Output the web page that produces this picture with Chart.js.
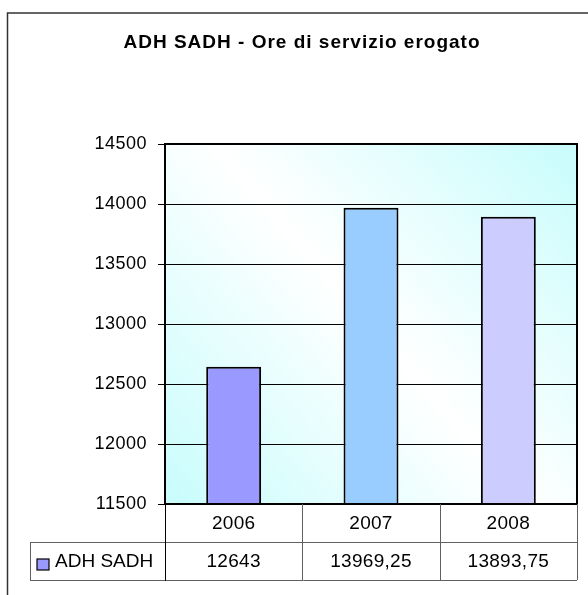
<!DOCTYPE html>
<html>
<head>
<meta charset="utf-8">
<script src="https://cdn.jsdelivr.net/npm/chart.js@4/dist/chart.umd.min.js"></script>
<style>
  html, body { margin: 0; padding: 0; background: #fff; }
  #wrap { width: 588px; height: 595px; }
</style>
</head>
<body>
<div id="wrap"><canvas id="chart" width="588" height="595"></canvas></div>
<script>
// dati
const years = ['2006', '2007', '2008'];
const oreServizio = [12643, 13969.25, 13893.75];
const barColors = ['#9999FF', '#99CCFF', '#CCCCFF'];
const seriesName = 'ADH SADH';
const chartTitle = 'ADH SADH - Ore di servizio erogato';

const FONT = 'Arial, "Liberation Sans", sans-serif';
const fmt = (v) => String(v).replace('.', ',');

// sfondo, cornice, titolo, tabella dati
const excelLook = {
  id: 'excelLook',
  beforeDraw(chart) {
    const { ctx, chartArea: a } = chart;
    ctx.save();
    ctx.fillStyle = '#fff';
    ctx.fillRect(0, 0, chart.width, chart.height);
    // cornice esterna (tagliata a destra e in basso)
    ctx.strokeStyle = '#333';
    ctx.lineWidth = 1.5;
    ctx.strokeRect(7.5, 13, 700, 700);
    // titolo
    ctx.fillStyle = '#000';
    ctx.font = 'bold 19px ' + FONT;
    ctx.letterSpacing = '1px';
    ctx.textAlign = 'center';
    ctx.textBaseline = 'middle';
    ctx.fillText(chartTitle, 302, 43);
    ctx.letterSpacing = '0px';
    // sfondo area del grafico
    const g = ctx.createLinearGradient(a.left, a.bottom, a.right, a.top);
    g.addColorStop(0, '#c8fcfc');
    g.addColorStop(0.5, '#ffffff');
    g.addColorStop(1, '#c8fcfc');
    ctx.fillStyle = g;
    ctx.fillRect(a.left, a.top, a.right - a.left, a.bottom - a.top);
    ctx.restore();
    // spaziatura delle etichette dell'asse
    chart.ctx.letterSpacing = '0.5px';
  },
  afterDraw(chart) {
    const { ctx, chartArea: a, scales: { x } } = chart;
    ctx.save();
    ctx.letterSpacing = '0.3px';
    // bordo area del grafico
    ctx.strokeStyle = '#000';
    ctx.lineWidth = 2;
    ctx.strokeRect(a.left, a.top, a.right - a.left, a.bottom - a.top);

    const row1 = a.bottom, row2 = 542, row3 = 580, tLeft = 30;
    const colW = (a.right - a.left) / years.length;
    ctx.strokeStyle = '#606060';
    ctx.lineWidth = 1;
    ctx.beginPath();
    // righe orizzontali
    ctx.moveTo(a.left, row2 + 0.5); ctx.lineTo(a.right, row2 + 0.5);
    ctx.moveTo(tLeft, row2 + 0.5); ctx.lineTo(a.left, row2 + 0.5);
    ctx.moveTo(tLeft, row3 + 0.5); ctx.lineTo(a.right, row3 + 0.5);
    ctx.moveTo(tLeft + 0.5, row2); ctx.lineTo(tLeft + 0.5, row3);
    // separatori di colonna
    for (let i = 1; i <= years.length; i++) {
      const cx = Math.round(a.left + colW * i) + 0.5;
      ctx.moveTo(cx, row1); ctx.lineTo(cx, row3);
    }
    ctx.stroke();
    ctx.strokeStyle = '#000';
    ctx.beginPath();
    ctx.moveTo(a.left + 0.5, row1); ctx.lineTo(a.left + 0.5, row3 + 1);
    ctx.stroke();

    // testi della tabella
    ctx.fillStyle = '#000';
    ctx.font = '19px ' + FONT;
    ctx.textAlign = 'center';
    ctx.textBaseline = 'middle';
    years.forEach((y, i) => {
      const cx = x.getPixelForValue(i);
      ctx.fillText(y, cx, (row1 + row2) / 2 + 1);
      ctx.fillText(fmt(oreServizio[i]), cx, (row2 + row3) / 2 + 1);
    });
    // legenda
    ctx.fillStyle = barColors[0];
    ctx.fillRect(37, 559, 12, 11);
    ctx.strokeStyle = '#000';
    ctx.lineWidth = 1.2;
    ctx.strokeRect(37, 559, 12, 11);
    ctx.fillStyle = '#000';
    ctx.textAlign = 'left';
    ctx.letterSpacing = '0px';
    ctx.fillText(seriesName, 55, 562);
    ctx.restore();
  },
};

new Chart(document.getElementById('chart'), {
  type: 'bar',
  data: {
    labels: years,
    datasets: [{
      label: seriesName,
      data: oreServizio,
      backgroundColor: barColors,
      borderColor: '#000',
      borderWidth: 2,
      barPercentage: 0.4,
      categoryPercentage: 1,
    }],
  },
  options: {
    responsive: false,
    animation: false,
    layout: { padding: { top: 144, right: 11, bottom: 91, left: 0 } },
    plugins: { legend: { display: false }, tooltip: { enabled: false }, title: { display: false } },
    scales: {
      x: { display: false },
      y: {
        min: 11500,
        max: 14500,
        afterFit: (s) => { s.width = 165; },
        ticks: {
          stepSize: 500,
          color: '#000',
          padding: 11,
          font: { family: FONT, size: 18 },
          callback: (v) => String(v),
        },
        grid: { color: '#000', lineWidth: 1, tickLength: 7, drawTicks: true },
        border: { display: false },
      },
    },
  },
  plugins: [excelLook],
});
</script>
</body>
</html>
